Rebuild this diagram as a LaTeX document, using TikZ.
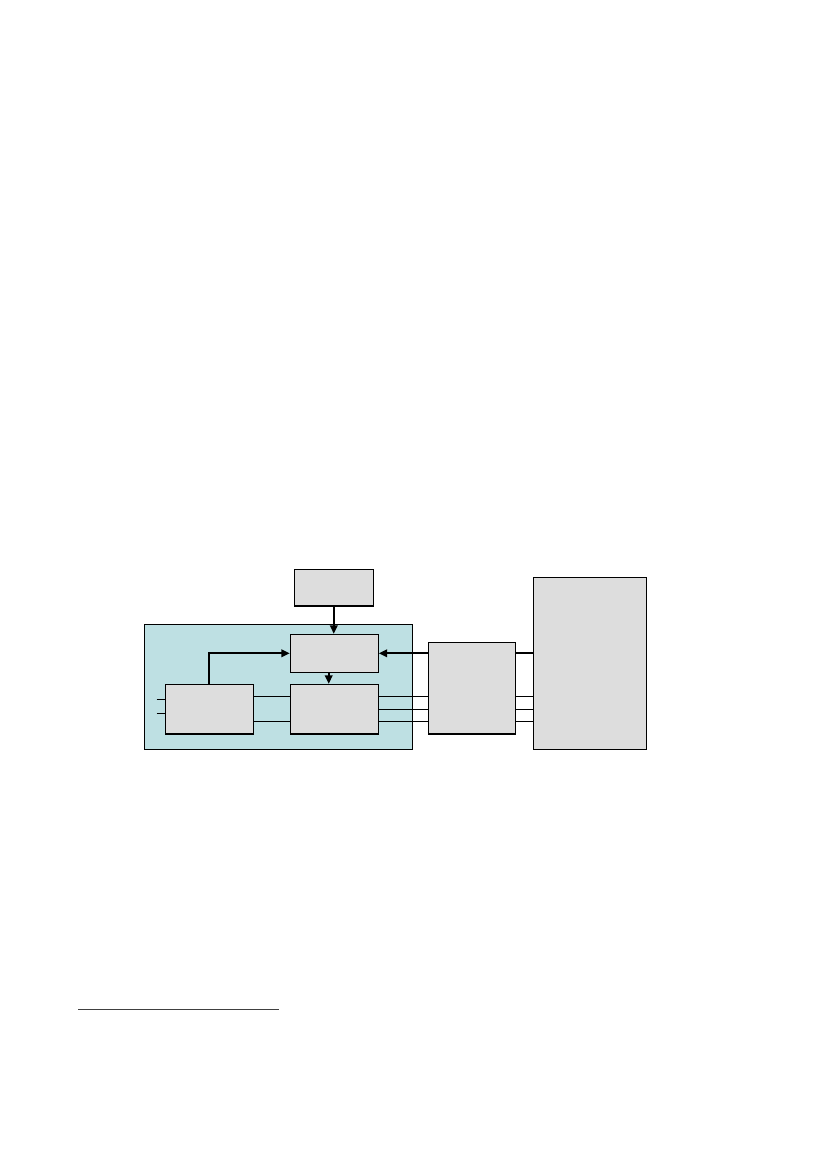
\documentclass[tikz,border=0pt]{standalone}
\usetikzlibrary{arrows.meta}
\definecolor{cyanbg}{RGB}{190,224,227}
\definecolor{boxgray}{RGB}{221,221,221}
\begin{document}
\begin{tikzpicture}[x=0.72pt,y=-0.72pt,
  blk/.style={draw=black,fill=boxgray,line width=0.8pt,inner sep=0pt},
  container/.style={draw=black,fill=cyanbg,line width=0.8pt,inner sep=0pt},
  thickarr/.style={line width=1.2pt,-{Triangle[length=6pt,width=5.5pt]}},
  thickln/.style={line width=1.2pt},
  thinln/.style={line width=0.6pt}]
\useasboundingbox (0,0) rectangle (827,1169);
% cyan container
\node[container,minimum width={268*0.72pt},minimum height={125*0.72pt}] (cy) at (278.3,686.8) {};
% boxes
\node[blk,minimum width={79*0.72pt},minimum height={36.7*0.72pt}] (top) at (333.8,587.65) {};
\node[blk,minimum width={88*0.72pt},minimum height={38*0.72pt}] (A) at (334.3,653.3) {};
\node[blk,minimum width={88*0.72pt},minimum height={49.7*0.72pt}] (B) at (334.3,709.15) {};
\node[blk,minimum width={88*0.72pt},minimum height={49.7*0.72pt}] (C) at (209.3,709.15) {};
\node[blk,minimum width={87*0.72pt},minimum height={91.7*0.72pt}] (D) at (471.8,688.15) {};
\node[blk,minimum width={113*0.72pt},minimum height={172*0.72pt}] (E) at (589.8,663.3) {};
% stub start points
\coordinate (s1) at (156.7,699.3);
\coordinate (s2) at (156.7,713.3);
% thick arrows
\draw[thickarr] (top.south) -- (top.south |- A.north);
\draw[thickarr] ([xshift={-5.6*0.72pt}]A.south) -- ([xshift={-5.6*0.72pt}]B.north);
\draw[thickarr] (C.north) |- (A.west);
\draw[thickarr] (D.west |- A.east) -- (A.east);
\draw[thickln] (E.west |- A.east) -- (D.east |- A.east);
% thin lines C-B
\foreach \yy in {696,721.3}{
  \draw[thinln] (C.east |- 0,\yy) -- (B.west |- 0,\yy);
}
% stubs left of C
\draw[thinln] (s1) -- (C.west |- s1);
\draw[thinln] (s2) -- (C.west |- s2);
% B-D and D-E
\foreach \yy in {696.3,709.3,721.3}{
  \draw[thinln] (B.east |- 0,\yy) -- (D.west |- 0,\yy);
  \draw[thinln] (D.east |- 0,\yy) -- (E.west |- 0,\yy);
}
% footnote rule
\coordinate (r1) at (78.3,1009.7);
\coordinate (r2) at (279,1009.7);
\draw[line width=0.8pt,black!75] (r1) -- (r2);
\end{tikzpicture}
\end{document}
